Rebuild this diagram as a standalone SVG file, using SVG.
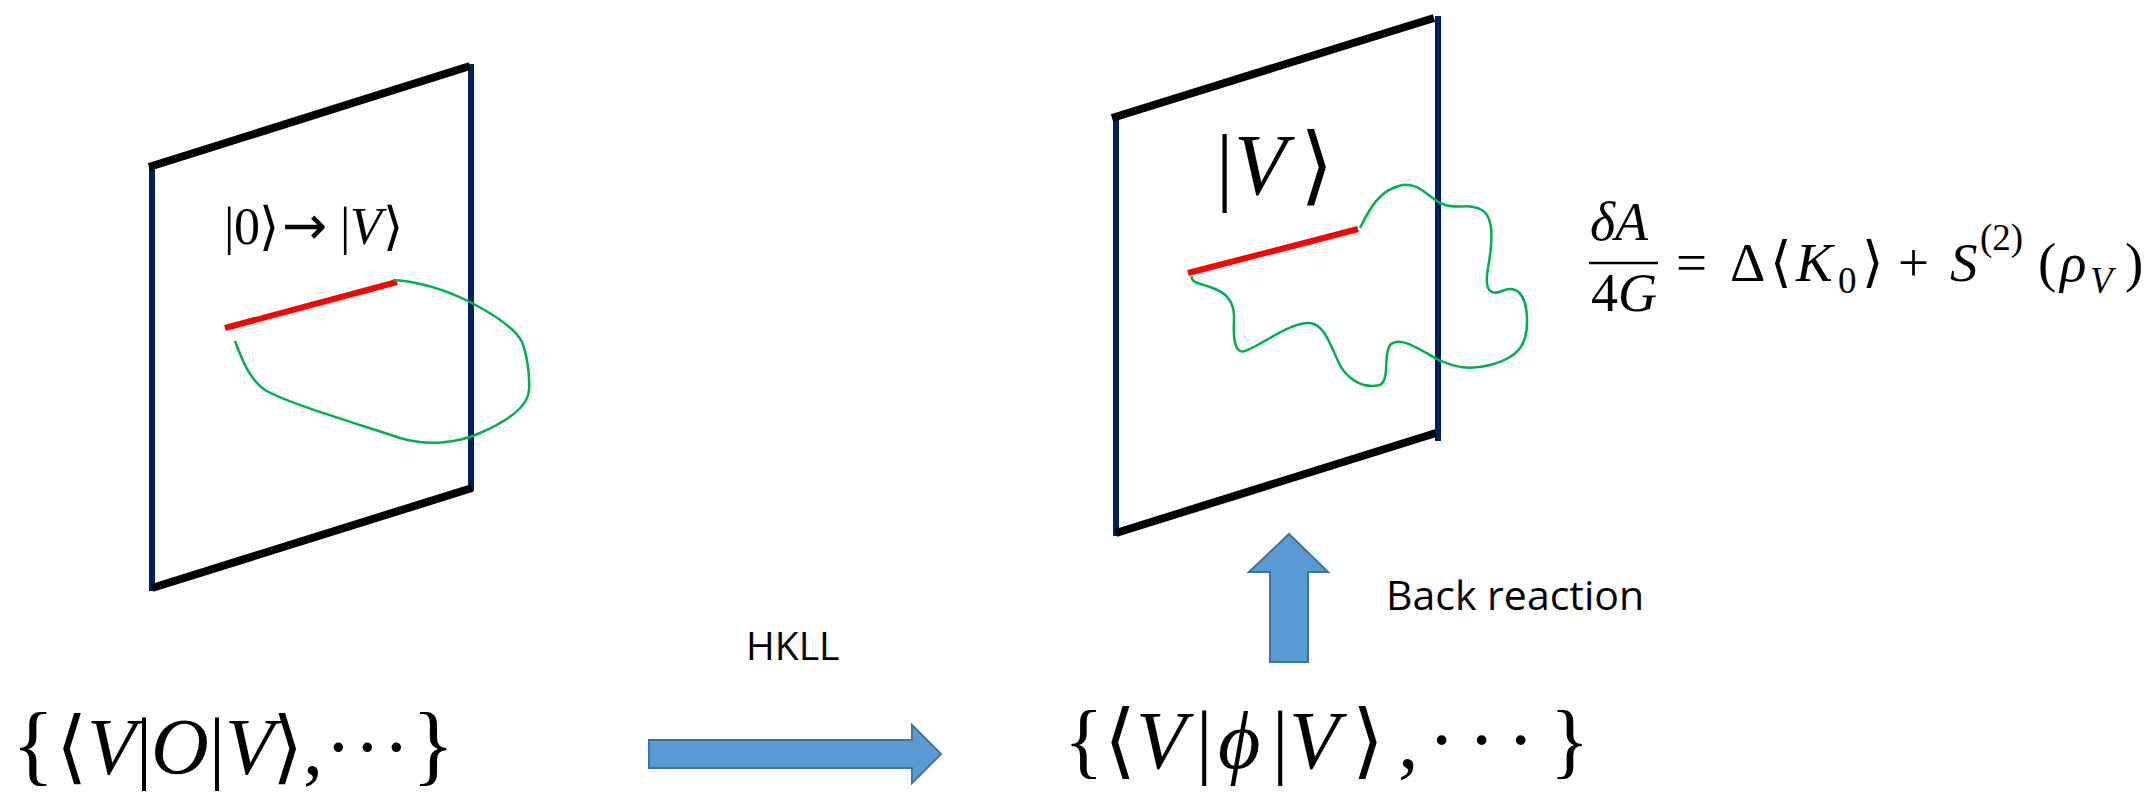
<svg xmlns="http://www.w3.org/2000/svg" width="2152" height="808" viewBox="0 0 2152 808">
<style>
.k{stroke:#000;stroke-width:8;fill:none}
.b{stroke:#002060;stroke-width:6;fill:none}
.r{stroke:#FF0000;stroke-width:6;fill:none}
.g{stroke:#00B050;stroke-width:2.5;fill:none}
.blk{fill:#5B9BD5;stroke:#41719C;stroke-width:2}
.m{font-family:"Liberation Serif","DejaVu Serif","DejaVu Sans",serif;fill:#000}
.i{font-style:italic}
.ar{font-family:"DejaVu Sans",sans-serif}
.t{font-family:"Open Sans","Liberation Sans",sans-serif;fill:#000}
</style>
<rect width="2152" height="808" fill="#fff"/>
<g id="panel-left">
  <line class="b" x1="152" y1="166" x2="152" y2="591"/>
  <line class="b" x1="471" y1="64" x2="471" y2="491"/>
  <line class="k" x1="149" y1="167" x2="470" y2="66"/>
  <line class="k" x1="152" y1="588" x2="472" y2="488"/>
  <line class="r" x1="225" y1="328" x2="397" y2="282"/>
  <path class="g" d="M235,341 C242,360 250,380 265,390 C285,402 345,420 400,438 C430,447 460,442 480,433 C510,420 528,405 529,390 C530,375 527,355 522,342 C515,328 495,315 470,302 C450,292 425,282 393,280"/>
  <text class="m" font-size="52" y="244"><tspan x="224">|</tspan><tspan x="234">0</tspan><tspan x="259">⟩</tspan><tspan x="282" class="ar" font-size="54">→</tspan><tspan x="340">|</tspan><tspan x="350" class="i">V</tspan><tspan x="383">⟩</tspan></text>
</g>
<g id="panel-right">
  <line class="b" x1="1116" y1="116" x2="1116" y2="536"/>
  <line class="b" x1="1438" y1="16" x2="1438" y2="441"/>
  <line class="k" x1="1112" y1="118" x2="1434" y2="18"/>
  <line class="k" x1="1116" y1="533" x2="1436" y2="433"/>
  <line class="r" x1="1188" y1="273" x2="1358" y2="229"/>
  <path class="g" d="M1360,228 C1368,212 1378,190 1402,185 C1420,182 1430,200 1445,205 C1460,209 1470,203 1482,210 C1495,218 1492,245 1488,268 C1484,290 1490,296 1502,291 C1515,285 1526,292 1527,318 C1528,345 1518,358 1490,365 C1470,370 1455,368 1437,359 C1420,350 1400,335 1390,345 C1383,355 1390,380 1380,385 C1360,390 1345,375 1340,365 C1330,345 1325,325 1310,323 C1290,322 1262,345 1245,351 C1235,354 1233,340 1234,320 C1235,300 1225,292 1210,287 C1198,283 1190,282 1192,276"/>
  <text class="m" font-size="86" y="194"><tspan x="1216">|</tspan><tspan x="1234" class="i">V</tspan><tspan x="1300">⟩</tspan></text>
</g>
<g id="formula-area">
  <text class="m" font-size="54" y="240"><tspan x="1590" class="i">δA</tspan></text>
  <line x1="1589" y1="263" x2="1658" y2="263" stroke="#000" stroke-width="2.5"/>
  <text class="m" font-size="54" y="311"><tspan x="1591">4</tspan><tspan class="i">G</tspan></text>
  <text class="m" font-size="55" y="281"><tspan x="1676">=</tspan><tspan x="1730">Δ</tspan><tspan x="1770">⟨</tspan><tspan x="1796" class="i">K</tspan><tspan x="1838" y="293" font-size="37">0</tspan><tspan x="1862" y="281">⟩</tspan><tspan x="1898">+</tspan><tspan x="1950" class="i">S</tspan><tspan x="1980" y="250" font-size="37">(2)</tspan><tspan x="2038" y="281">(</tspan><tspan x="2060" class="i">ρ</tspan><tspan x="2090" y="293" font-size="37" class="i">V</tspan><tspan x="2125" y="281">)</tspan></text>
</g>
<g id="boundary-set">
  <text class="m" font-size="80" y="774"><tspan x="12" font-size="88">{</tspan><tspan x="56">⟨</tspan><tspan x="87" class="i">V</tspan><tspan x="136">|</tspan><tspan x="151" class="i">O</tspan><tspan x="209">|</tspan><tspan x="225" class="i">V</tspan><tspan x="272">⟩</tspan><tspan x="303">,</tspan><tspan x="325">·</tspan><tspan x="354">·</tspan><tspan x="383">·</tspan><tspan x="412" font-size="88">}</tspan></text>
</g>
<g id="bulk-set">
  <text class="m" font-size="82" y="768"><tspan x="1064">{</tspan><tspan x="1104">⟨</tspan><tspan x="1136" class="i">V</tspan><tspan x="1196">|</tspan><tspan x="1218" class="i">ϕ</tspan><tspan x="1272">|</tspan><tspan x="1289" class="i">V</tspan><tspan x="1352">⟩</tspan><tspan x="1398">,</tspan><tspan x="1428">·</tspan><tspan x="1468">·</tspan><tspan x="1507">·</tspan><tspan x="1550">}</tspan></text>
</g>
<g id="connectors">
  <polygon class="blk" points="649,740 912,740 912,725 941,754 912,783 912,768 649,768"/>
  <text class="t" font-size="39" x="746" y="660">HKLL</text>
  <polygon class="blk" points="1289,534 1328,572 1308,572 1308,662 1270,662 1270,572 1249,572"/>
  <text class="t" font-size="41" x="1386" y="610">Back reaction</text>
</g>
</svg>
